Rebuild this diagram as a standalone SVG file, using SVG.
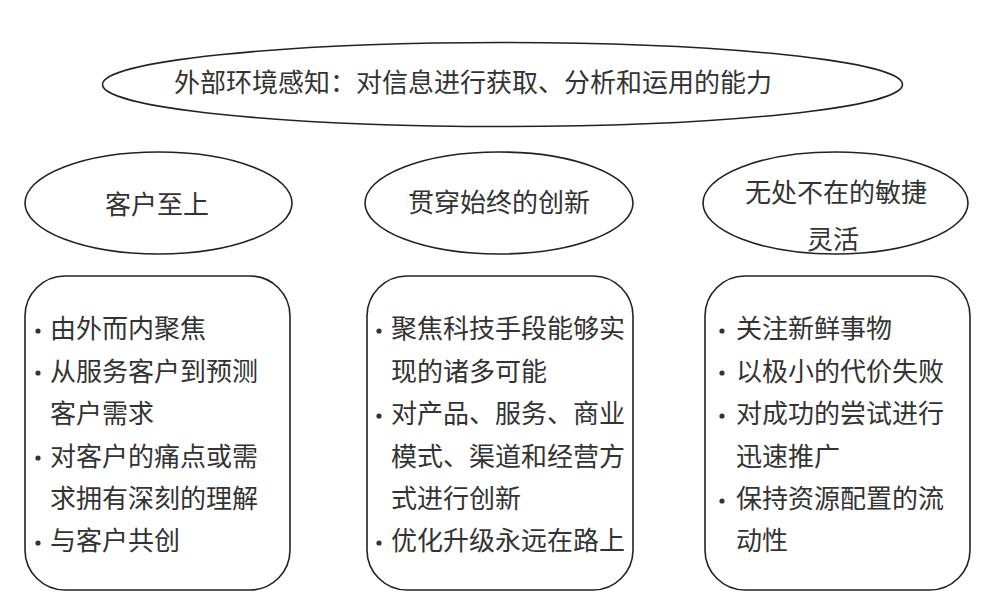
<svg xmlns="http://www.w3.org/2000/svg" width="1000" height="613" viewBox="0 0 1000 613">
<style>
.shape{fill:#fff;stroke:#222;stroke-width:1.6}
.t{font-family:"Noto Sans CJK SC","Noto Sans",sans-serif;font-size:26px;fill:#333}
.c{text-anchor:middle}
.b{fill:#333}
</style>
<rect width="1000" height="613" fill="#fff"/>
<g id="top">
<ellipse class="shape" cx="502.5" cy="84.5" rx="400" ry="42"/>
<text class="t c" x="473" y="92">外部环境感知：对信息进行获取、分析和运用的能力</text>
</g>
<g id="customer">
<ellipse class="shape" cx="158.5" cy="203" rx="133.5" ry="51"/>
<text class="t c" x="157" y="214">客户至上</text>
</g>
<g id="innovation">
<ellipse class="shape" cx="499" cy="203" rx="134" ry="51"/>
<text class="t c" x="499" y="212">贯穿始终的创新</text>
</g>
<g id="agile">
<ellipse class="shape" cx="835.5" cy="203" rx="132.5" ry="51"/>
<text class="t c" x="836" y="202">无处不在的敏捷</text>
<text class="t c" x="833" y="249">灵活</text>
</g>
<g id="box-customer">
<rect class="shape" x="25" y="276" width="265" height="314" rx="40"/>
<circle class="b" cx="38" cy="331" r="2.6"/>
<circle class="b" cx="38" cy="373" r="2.6"/>
<circle class="b" cx="38" cy="458" r="2.6"/>
<circle class="b" cx="38" cy="543" r="2.6"/>
<text class="t" x="50" y="338">由外而内聚焦</text>
<text class="t" x="50" y="381">从服务客户到预测</text>
<text class="t" x="50" y="423">客户需求</text>
<text class="t" x="50" y="466">对客户的痛点或需</text>
<text class="t" x="50" y="508">求拥有深刻的理解</text>
<text class="t" x="50" y="550">与客户共创</text>
</g>
<g id="box-innovation">
<rect class="shape" x="367" y="276" width="266" height="314" rx="40"/>
<circle class="b" cx="379" cy="331" r="2.6"/>
<circle class="b" cx="379" cy="416" r="2.6"/>
<circle class="b" cx="379" cy="543" r="2.6"/>
<text class="t" x="391" y="338">聚焦科技手段能够实</text>
<text class="t" x="391" y="381">现的诸多可能</text>
<text class="t" x="391" y="423">对产品、服务、商业</text>
<text class="t" x="391" y="466">模式、渠道和经营方</text>
<text class="t" x="391" y="508">式进行创新</text>
<text class="t" x="391" y="550">优化升级永远在路上</text>
</g>
<g id="box-agile">
<rect class="shape" x="705" y="276" width="265" height="314" rx="40"/>
<circle class="b" cx="722" cy="331" r="2.6"/>
<circle class="b" cx="722" cy="373" r="2.6"/>
<circle class="b" cx="722" cy="416" r="2.6"/>
<circle class="b" cx="722" cy="501" r="2.6"/>
<text class="t" x="736" y="338">关注新鲜事物</text>
<text class="t" x="736" y="381">以极小的代价失败</text>
<text class="t" x="736" y="423">对成功的尝试进行</text>
<text class="t" x="736" y="466">迅速推广</text>
<text class="t" x="736" y="508">保持资源配置的流</text>
<text class="t" x="736" y="550">动性</text>
</g>
<g id="connectors"></g>
</svg>
